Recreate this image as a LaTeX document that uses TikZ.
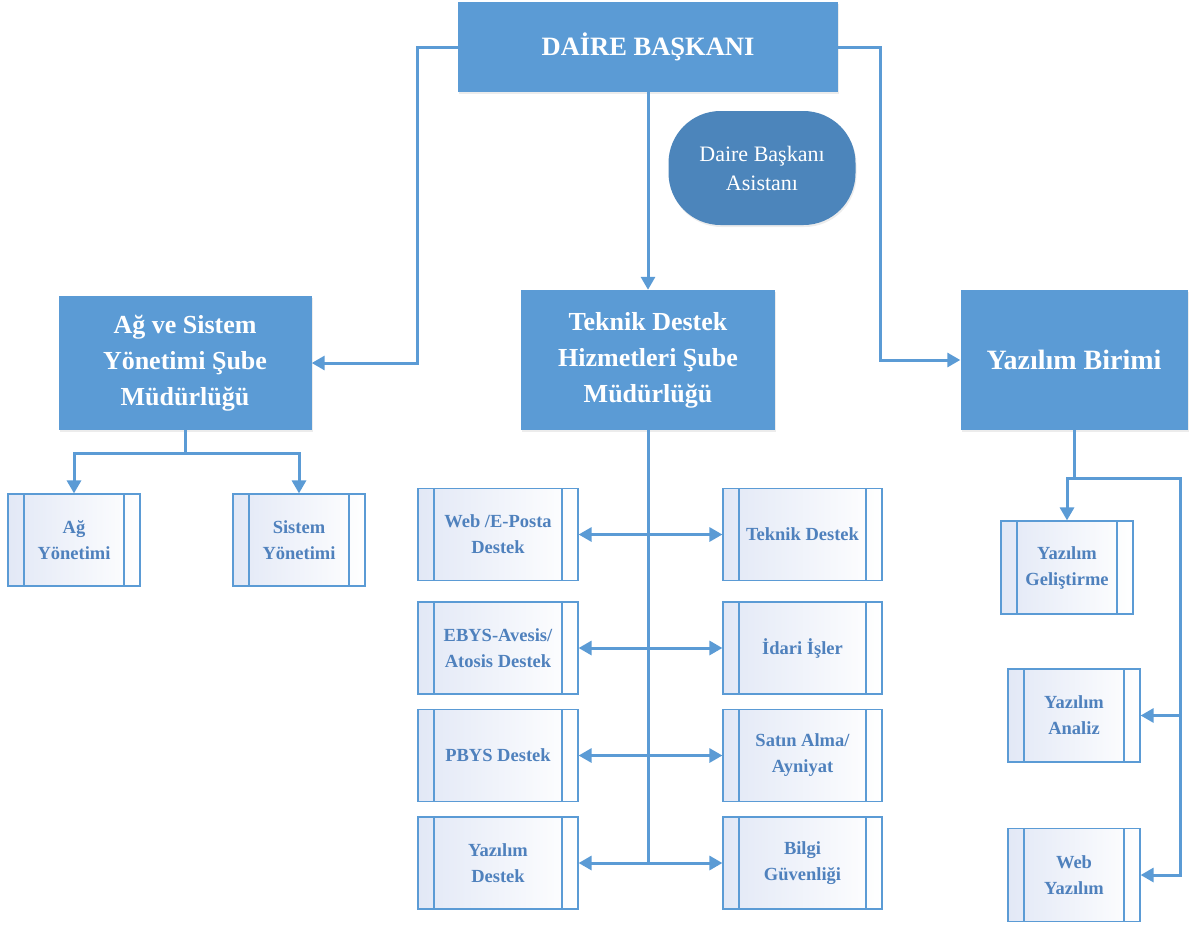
\documentclass[tikz,border=0pt]{standalone}
\usepackage{fontspec}
\setmainfont{Liberation Serif}
\usetikzlibrary{arrows.meta,shadows}
\definecolor{unitblue}{RGB}{91,155,213}
\definecolor{asstblue}{RGB}{76,133,187}
\definecolor{subtext}{RGB}{79,129,189}
\definecolor{subfill}{RGB}{226,232,246}
\begin{document}
\begin{tikzpicture}[x=1pt,y=-1pt]
	\tikzstyle{unit}=[rectangle,fill=unitblue,text=white,font=\bfseries\fontsize{26}{36}\selectfont,align=center,inner sep=0pt,drop shadow={opacity=0.15,shadow xshift=1pt,shadow yshift=-2pt}]
	\tikzstyle{asst}=[rectangle,rounded corners=52pt,fill=asstblue,text=white,font=\fontsize{22}{29}\selectfont,align=center,minimum width=187pt,minimum height=114pt,drop shadow={opacity=0.15,shadow xshift=1pt,shadow yshift=-2pt}]
	\tikzstyle{sub}=[rectangle,draw=unitblue,line width=1.2pt,left color=subfill,middle color=white!96!subfill,right color=white,text=subtext,font=\bfseries\fontsize{18.5}{26}\selectfont,align=center,minimum height=92pt,inner sep=0pt,
		path picture={\draw[unitblue,line width=1.2pt] ([xshift=16pt]path picture bounding box.north west) -- ([xshift=16pt]path picture bounding box.south west);
			\draw[unitblue,line width=1.2pt] ([xshift=-16pt]path picture bounding box.north east) -- ([xshift=-16pt]path picture bounding box.south east);}]
	\tikzstyle{link}=[draw=unitblue,line width=3pt]
	\tikzstyle{arr}=[link,-{Triangle[length=13pt,width=14pt]}]
	\tikzstyle{both}=[link,{Triangle[length=13pt,width=14pt]}-{Triangle[length=13pt,width=14pt]}]
	\useasboundingbox (0,0) rectangle (1190,926);
	% top
	\node[unit,minimum width=380pt,minimum height=90pt,font=\bfseries\fontsize{26.5}{30}\selectfont] (DB-main) at (648,47) {DAİRE BAŞKANI};
	\node[asst] (DB-asst) at (762,168) {Daire Başkanı\\Asistanı};
	% units
	\node[unit,minimum width=253pt,minimum height=134pt] (AS-unit) at (185,363) {Ağ ve Sistem\\Yönetimi Şube\\Müdürlüğü};
	\node[unit,minimum width=254pt,minimum height=140pt] (TD-unit) at (648,360) {Teknik Destek\\Hizmetleri Şube\\Müdürlüğü};
	\node[unit,minimum width=227pt,minimum height=140pt,font=\bfseries\fontsize{28}{36}\selectfont] (YB-unit) at (1074,360) {Yazılım Birimi};
	% network and system
	\node[sub,minimum width=132pt] (AS-net) at (74,540) {Ağ\\Yönetimi};
	\node[sub,minimum width=132pt] (AS-sys) at (299,540) {Sistem\\Yönetimi};
	% technical support
	\node[sub,minimum width=160pt] (TD-web) at (498,534.5) {Web /E-Posta\\Destek};
	\node[sub,minimum width=160pt] (TD-ebys) at (498,648) {EBYS-Avesis/\\Atosis Destek};
	\node[sub,minimum width=160pt] (TD-pbys) at (498,755.5) {PBYS Destek};
	\node[sub,minimum width=160pt] (TD-soft) at (498,863) {Yazılım\\Destek};
	\node[sub,minimum width=159pt] (TD-tech) at (802.5,534.5) {Teknik Destek};
	\node[sub,minimum width=159pt] (TD-admin) at (802.5,648) {İdari İşler};
	\node[sub,minimum width=159pt] (TD-buy) at (802.5,755.5) {Satın Alma/\\Ayniyat};
	\node[sub,minimum width=159pt] (TD-sec) at (802.5,863) {Bilgi\\Güvenliği};
	% software
	\node[sub,minimum width=132pt,minimum height=93pt] (YB-dev) at (1067,567.5) {Yazılım\\Geliştirme};
	\node[sub,minimum width=132pt,minimum height=93pt] (YB-ana) at (1074,715.5) {Yazılım\\Analiz};
	\node[sub,minimum width=132pt,minimum height=93pt] (YB-web) at (1074,875) {Web\\Yazılım};
	% connectors
	\coordinate (DB-left) at (417,47);
	\coordinate (DB-right) at (880,47);
	\draw[arr] (DB-main.west) -- (DB-left) |- (AS-unit.east);
	\draw[arr] (DB-main.east) -- (DB-right) |- (YB-unit.west);
	\draw[arr] (DB-main.south) -- (TD-unit.north);
	\coordinate (AS-split) at (185,453);
	\draw[link] (AS-unit.south) -- (AS-split);
	\draw[arr] (AS-split) -| (AS-net.north);
	\draw[arr] (AS-split) -| (AS-sys.north);
	\draw[link] (TD-unit.south) -- (TD-unit.south |- TD-soft.east);
	\draw[both] (TD-web.east) -- (TD-tech.west);
	\draw[both] (TD-ebys.east) -- (TD-admin.west);
	\draw[both] (TD-pbys.east) -- (TD-buy.west);
	\draw[both] (TD-soft.east) -- (TD-sec.west);
	\coordinate (YB-split) at (1074,478);
	\coordinate (YB-rail) at (1180,478);
	\draw[link] (YB-unit.south) -- (YB-split);
	\draw[arr] (YB-split) -| (YB-dev.north);
	\draw[arr] (YB-split) -- (YB-rail) |- (YB-web.east);
	\draw[arr] (YB-rail |- YB-ana.east) -- (YB-ana.east);
\end{tikzpicture}
\end{document}
